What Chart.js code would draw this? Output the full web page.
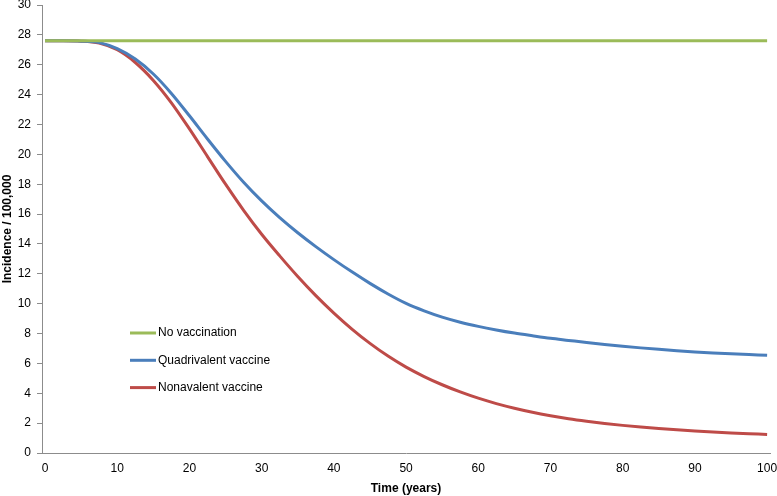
<!DOCTYPE html>
<html>
<head>
<meta charset="utf-8">
<script src="https://cdn.jsdelivr.net/npm/chart.js@4/dist/chart.umd.min.js"></script>
<style>
  html, body { margin: 0; padding: 0; background: #fff; }
  #wrap { width: 777px; height: 496px; position: relative; }
</style>
</head>
<body>
<div id="wrap"><canvas id="c" width="777" height="496"></canvas></div>
<script>
// ---- data ----
const years = [0, 2.5, 5, 7.5, 10, 12.5, 15, 17.5, 20, 22.5, 25, 27.5, 30, 32.5, 35, 37.5, 40, 42.5, 45, 47.5, 50,
               52.5, 55, 57.5, 60, 62.5, 65, 67.5, 70, 72.5, 75, 77.5, 80, 82.5, 85, 87.5, 90, 92.5, 95, 97.5, 100];
const noVaccination = [27.6, 27.6, 27.6, 27.6, 27.6, 27.6, 27.6, 27.6, 27.6, 27.6, 27.6, 27.6, 27.6, 27.6, 27.6, 27.6, 27.6, 27.6, 27.6, 27.6, 27.6,
                       27.6, 27.6, 27.6, 27.6, 27.6, 27.6, 27.6, 27.6, 27.6, 27.6, 27.6, 27.6, 27.6, 27.6, 27.6, 27.6, 27.6, 27.6, 27.6, 27.6];
const quadrivalent = [27.6, 27.6, 27.58, 27.48, 27.08, 26.38, 25.38, 24.08, 22.58, 21.03, 19.53, 18.13, 16.88, 15.76, 14.75, 13.82, 12.95, 12.13, 11.36, 10.65, 10.02,
                      9.52, 9.1, 8.76, 8.48, 8.24, 8.03, 7.85, 7.68, 7.54, 7.4, 7.27, 7.15, 7.04, 6.94, 6.85, 6.77, 6.7, 6.64, 6.59, 6.54];
const nonavalent = [27.6, 27.6, 27.58, 27.45, 27.0, 26.15, 24.95, 23.45, 21.7, 19.85, 18.0, 16.25, 14.65, 13.2, 11.82, 10.54, 9.37, 8.3, 7.34, 6.49, 5.75,
                    5.12, 4.57, 4.09, 3.67, 3.31, 3.0, 2.73, 2.5, 2.3, 2.13, 1.98, 1.85, 1.74, 1.64, 1.55, 1.47, 1.4, 1.34, 1.29, 1.24];
const seriesLabels = ["No vaccination", "Quadrivalent vaccine", "Nonavalent vaccine"];
const xTickValues = [0, 10, 20, 30, 40, 50, 60, 70, 80, 90, 100];
const yTickValues = [0, 2, 4, 6, 8, 10, 12, 14, 16, 18, 20, 22, 24, 26, 28, 30];

const FONT = "'Liberation Sans', Arial, Helvetica, sans-serif";
const colors = ["#9BBB59", "#4A7EBB", "#BE4B48"];

function pts(arr) { return years.map((x, i) => ({ x: x, y: arr[i] })); }

const insideLegend = {
  id: 'insideLegend',
  afterDatasetsDraw(chart) {
    const ctx = chart.ctx;
    ctx.save();
    ctx.font = "12px " + FONT;
    ctx.textBaseline = 'middle';
    ctx.textAlign = 'left';
    chart.data.datasets.forEach((ds, i) => {
      const y = 333 + i * 27.3;
      ctx.strokeStyle = ds.borderColor;
      ctx.lineWidth = 3;
      ctx.beginPath();
      ctx.moveTo(130, y);
      ctx.lineTo(156, y);
      ctx.stroke();
      ctx.fillStyle = '#000';
      ctx.fillText(ds.label, 158, y);
    });
    ctx.restore();
  }
};

new Chart(document.getElementById('c'), {
  type: 'line',
  data: {
    datasets: [
      { label: seriesLabels[0], data: pts(noVaccination), borderColor: colors[0] },
      { label: seriesLabels[1], data: pts(quadrivalent), borderColor: colors[1] },
      { label: seriesLabels[2], data: pts(nonavalent), borderColor: colors[2] }
    ]
  },
  options: {
    responsive: false,
    animation: false,
    devicePixelRatio: 1,
    layout: { padding: { top: 5, right: 7, left: 0, bottom: 0 } },
    elements: {
      point: { radius: 0 },
      line: { borderWidth: 3, cubicInterpolationMode: 'monotone', fill: false }
    },
    plugins: { legend: { display: false }, tooltip: { enabled: false } },
    scales: {
      x: {
        type: 'linear',
        min: -0.42,
        max: 100.4,
        afterBuildTicks(scale) { scale.ticks = xTickValues.map(v => ({ value: v })); },
        afterFit(scale) { scale.height = 43; scale.paddingLeft = 0; scale.paddingRight = 0; },
        grid: { display: false, drawTicks: false, tickLength: 0 },
        border: { display: true, color: '#8C8C8C', width: 1 },
        ticks: { color: '#000', font: { family: FONT, size: 12 }, padding: 8, maxRotation: 0, autoSkip: false },
        title: { display: true, text: 'Time (years)', color: '#000', font: { family: FONT, size: 12, weight: 'bold' }, padding: { top: 2, bottom: 0 } }
      },
      y: {
        min: 0,
        max: 30,
        afterBuildTicks(scale) { scale.ticks = yTickValues.map(v => ({ value: v })); },
        afterFit(scale) { scale.width = 42; scale.paddingTop = 0; scale.paddingBottom = 0; },
        grid: { display: true, drawOnChartArea: false, drawTicks: true, tickLength: 5, color: '#8C8C8C' },
        border: { display: true, color: '#8C8C8C', width: 1 },
        ticks: { color: '#000', font: { family: FONT, size: 12 }, padding: 6, autoSkip: false },
        title: { display: true, text: 'Incidence / 100,000', color: '#000', font: { family: FONT, size: 12, weight: 'bold' }, padding: { top: 0, bottom: 0 } }
      }
    }
  },
  plugins: [insideLegend]
});
</script>
</body>
</html>
